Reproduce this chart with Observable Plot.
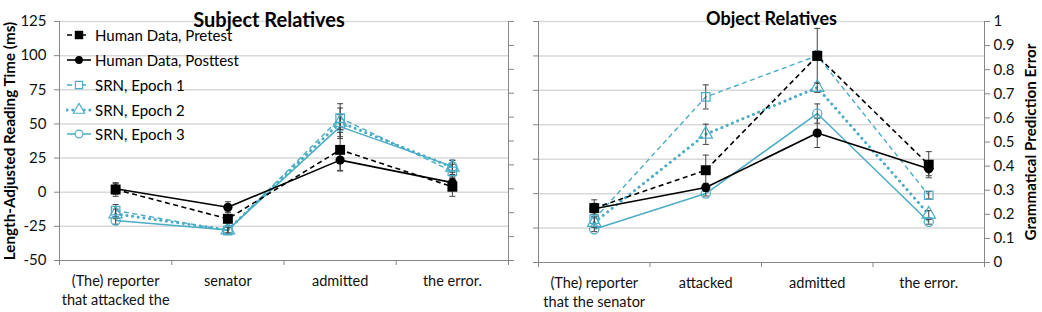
<!DOCTYPE html>
<html>
<head>
<meta charset="utf-8">
<script src="https://cdn.jsdelivr.net/npm/d3@7"></script>
<script src="https://cdn.jsdelivr.net/npm/@observablehq/plot@0.6"></script>
<style>
  body { margin: 0; background: #fff; }
  #wrap { position: relative; width: 1042px; height: 312px; display: flex; font-family: Lato, "DejaVu Sans", sans-serif; }
  #legend { position: absolute; left: 66px; top: 23px; font-size: 15px; color: #000; }
  #legend .row { display: flex; align-items: center; height: 24.75px; white-space: nowrap; }
  #legend svg { margin-right: 3px; }
</style>
</head>
<body>
<div id="wrap">
  <div id="left"></div>
  <div id="right"></div>
  <div id="legend"></div>
</div>
<script>
// ---------- data ----------
const seriesNames = ["Human Data, Pretest", "Human Data, Posttest", "SRN, Epoch 1", "SRN, Epoch 2", "SRN, Epoch 3"];

const subjCategories = ["(The) reporter\nthat attacked the", "senator", "admitted", "the error."];
const objCategories = ["(The) reporter\nthat the senator", "attacked", "admitted", "the error."];

// Subject relatives: human reading times (ms, left axis)
const subjPretest = [2, -19.5, 31, 4];
const subjPretestErr = [5, 5, 15, 7];
const subjPosttest = [2.5, -11, 23.5, 7];
const subjPosttestErr = [4, 4, 8, 5];
// Subject relatives: SRN grammatical prediction error (right axis)
const subjEpoch1 = [0.209, 0.125, 0.596, 0.373];
const subjEpoch1Err = [0.025, 0.015, 0.06, 0.03];
const subjEpoch2 = [0.195, 0.128, 0.578, 0.39];
const subjEpoch2Err = [0.02, 0.015, 0.06, 0.03];
const subjEpoch3 = [0.167, 0.128, 0.56, 0.394];
const subjEpoch3Err = [0.015, 0.012, 0.05, 0.025];

// Object relatives: human reading times (ms, left axis)
const objPretest = [-10.5, 17, 100, 21];
const objPretestErr = [6, 11, 20, 9.5];
const objPosttest = [-11, 4.5, 44, 18];
const objPosttestErr = [4, 3, 10.5, 5];
// Object relatives: SRN grammatical prediction error (right axis)
const objEpoch1 = [0.18, 0.687, 0.858, 0.279];
const objEpoch1Err = [0.02, 0.05, 0.02, 0.015];
const objEpoch2 = [0.166, 0.532, 0.726, 0.2];
const objEpoch2Err = [0.02, 0.042, 0.02, 0.015];
const objEpoch3 = [0.138, 0.286, 0.618, 0.169];
const objEpoch3Err = [0.01, 0.01, 0.04, 0.01];

const msTicks = [-50, -25, 0, 25, 50, 75, 100, 125];
const errTicks = [0, 0.1, 0.2, 0.3, 0.4, 0.5, 0.6, 0.7, 0.8, 0.9, 1];

// ---------- helpers ----------
const TEAL = "#4bacc6";
const GREY = "#868686";
const MS_MIN = -50, MS_MAX = 125;
const toMs = e => MS_MIN + (MS_MAX - MS_MIN) * e;   // secondary (right) axis -> primary scale
const fromMs = v => (v - MS_MIN) / (MS_MAX - MS_MIN);

const styles = [
  {stroke: "#000", strokeWidth: 1.6, dash: "5,3.5", symbol: "square", r: 5.6, fill: "#000", dotStroke: "none"},
  {stroke: "#000", strokeWidth: 1.6, dash: null, symbol: "circle", r: 4.6, fill: "#000", dotStroke: "none"},
  {stroke: TEAL, strokeWidth: 1.4, dash: "5,3.5", symbol: "square", r: 4.8, fill: "none", dotStroke: TEAL},
  {stroke: TEAL, strokeWidth: 3, dash: "0.1,5.6", symbol: "triangle", r: 5, fill: "none", dotStroke: TEAL, round: true},
  {stroke: TEAL, strokeWidth: 1.5, dash: null, symbol: "circle", r: 4.6, fill: "none", dotStroke: TEAL}
];

const capSymbol = {draw(ctx) { ctx.moveTo(-3, 0); ctx.lineTo(3, 0); }};

function rows(values, errs, conv) {
  return values.map((v, i) => ({i, v: conv(v), lo: conv(v - errs[i]), hi: conv(v + errs[i])}));
}

function panel(o) {
  const id = x => x;
  const series = [
    rows(o.pre, o.preErr, id),
    rows(o.post, o.postErr, id),
    rows(o.e1, o.e1Err, toMs),
    rows(o.e2, o.e2Err, toMs),
    rows(o.e3, o.e3Err, toMs)
  ];
  const order = [2, 3, 4, 0, 1];
  const marks = [
    Plot.ruleY(msTicks.filter(d => d > MS_MIN), {stroke: "#d9d9d9", strokeWidth: 1.5}),
    Plot.ruleX([-0.5, 3.5], {stroke: GREY}),
    Plot.ruleY([MS_MIN], {stroke: GREY}),
    // left axis (ms)
    Plot.axisY(msTicks, {anchor: "left", tickSize: 5, tickPadding: 8, stroke: GREY,
      fill: o.leftLabels ? "#111" : "none", fontSize: 15, tickFormat: d => String(d), label: null}),
    // right axis (prediction error)
    Plot.axisY(errTicks.map(toMs), {anchor: "right", tickSize: 5, tickPadding: 4, stroke: GREY,
      fill: o.rightLabels ? "#111" : "none", fontSize: 15,
      tickFormat: v => String(+fromMs(v).toFixed(1)), label: null}),
    // category boundary ticks
    Plot.axisX([-0.5, 0.5, 1.5, 2.5, 3.5], {anchor: "bottom", tickSize: 5, stroke: GREY, fill: "none", label: null}),
    // category labels
    Plot.axisX([0, 1, 2, 3], {anchor: "bottom", tickSize: 0, tickPadding: 12, fill: "#111", fontSize: 14.5,
      lineHeight: 1.3, tickFormat: i => o.cats[i], label: null}),
    Plot.text([o.title], {frameAnchor: "top", dy: -9, dx: o.titleDx, fontSize: o.titleSize, fontWeight: "bold", fill: "#000"})
  ];
  if (o.yTitleLeft) marks.push(Plot.text([o.yTitleLeft], {frameAnchor: "left", textAnchor: "middle", dx: -49, rotate: -90, fontSize: 15.2, fontWeight: "bold", fill: "#000"}));
  if (o.yTitleRight) marks.push(Plot.text([o.yTitleRight], {frameAnchor: "right", textAnchor: "middle", dx: 47, rotate: -90, fontSize: 15.2, fontWeight: "bold", fill: "#000"}));
  for (const k of order) {
    const s = styles[k];
    marks.push(Plot.line(series[k], {x: "i", y: "v", stroke: s.stroke, strokeWidth: s.strokeWidth,
      strokeDasharray: s.dash, strokeLinecap: s.round ? "round" : "butt"}));
  }
  for (const k of order) {
    marks.push(Plot.ruleX(series[k], {x: "i", y1: "lo", y2: "hi", stroke: "#404040", strokeWidth: 1}));
    marks.push(Plot.dot(series[k], {x: "i", y: "lo", symbol: capSymbol, stroke: "#404040", fill: "none", strokeWidth: 1}));
    marks.push(Plot.dot(series[k], {x: "i", y: "hi", symbol: capSymbol, stroke: "#404040", fill: "none", strokeWidth: 1}));
  }
  for (const k of order) {
    const s = styles[k];
    marks.push(Plot.dot(series[k], {x: "i", y: "v", symbol: s.symbol, r: s.r, fill: s.fill, stroke: s.dotStroke, strokeWidth: 1.2}));
  }
  return Plot.plot({
    width: o.width, height: 312,
    marginLeft: o.marginLeft, marginRight: o.marginRight, marginTop: 21, marginBottom: o.marginBottom,
    x: {type: "linear", domain: [-0.5, 3.5], axis: null},
    y: {domain: [MS_MIN, MS_MAX], axis: null},
    style: {fontFamily: "Lato, 'DejaVu Sans', sans-serif", fontSize: "14px", background: "#fff", overflow: "visible"},
    marks
  });
}

document.getElementById("left").appendChild(panel({
  width: 520, marginLeft: 59, marginRight: 12, marginBottom: 52,
  cats: subjCategories, title: "Subject Relatives", titleDx: -15, titleSize: 20,
  pre: subjPretest, preErr: subjPretestErr, post: subjPosttest, postErr: subjPosttestErr,
  e1: subjEpoch1, e1Err: subjEpoch1Err, e2: subjEpoch2, e2Err: subjEpoch2Err, e3: subjEpoch3, e3Err: subjEpoch3Err,
  leftLabels: true, rightLabels: false, yTitleLeft: "Length-Adjusted Reading Time (ms)"
}));

document.getElementById("right").appendChild(panel({
  width: 522, marginLeft: 18, marginRight: 58, marginBottom: 50,
  cats: objCategories, title: "Object Relatives", titleDx: 10, titleSize: 18,
  pre: objPretest, preErr: objPretestErr, post: objPosttest, postErr: objPosttestErr,
  e1: objEpoch1, e1Err: objEpoch1Err, e2: objEpoch2, e2Err: objEpoch2Err, e3: objEpoch3, e3Err: objEpoch3Err,
  leftLabels: false, rightLabels: true, yTitleRight: "Grammatical Prediction Error"
}));

// ---------- legend ----------
const sym = d3.symbol();
const legend = d3.select("#legend");
seriesNames.forEach((name, k) => {
  const s = styles[k];
  const row = legend.append("div").attr("class", "row");
  const svg = row.append("svg").attr("width", 26).attr("height", 16);
  svg.append("line").attr("x1", 1).attr("x2", 25).attr("y1", 8).attr("y2", 8)
    .attr("stroke", s.stroke).attr("stroke-width", s.strokeWidth)
    .attr("stroke-dasharray", s.dash ? (s.round ? s.dash : "5,9") : null)
    .attr("stroke-linecap", s.round ? "round" : "butt");
  const type = {square: d3.symbolSquare, circle: d3.symbolCircle, triangle: d3.symbolTriangle}[s.symbol];
  const r = s.r * 0.85;
  svg.append("path").attr("transform", "translate(13,8)")
    .attr("d", sym.type(type).size(Math.PI * r * r)())
    .attr("fill", s.fill === "none" ? "#fff" : s.fill)
    .attr("stroke", s.dotStroke === "none" ? null : s.dotStroke).attr("stroke-width", 1.1);
  row.append("span").text(name);
});
</script>
</body>
</html>
